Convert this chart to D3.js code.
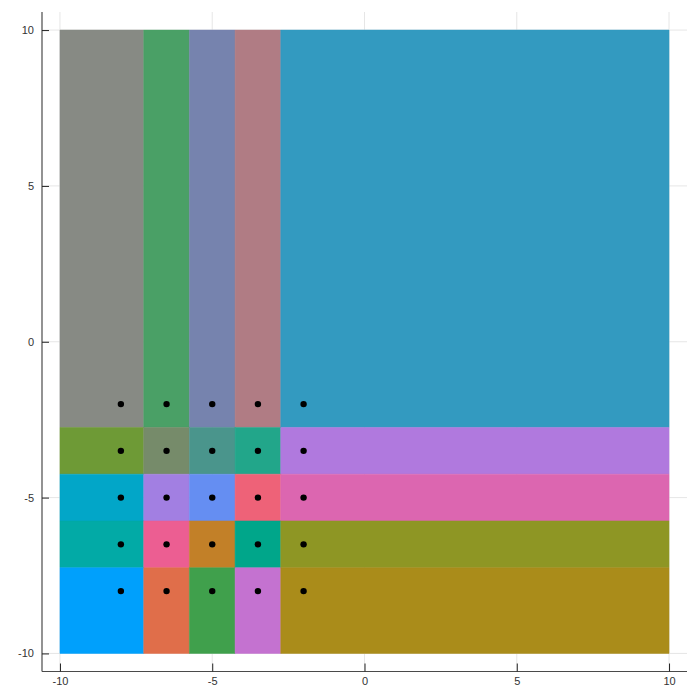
<!DOCTYPE html>
<html>
<head>
<meta charset="utf-8">
<script src="https://cdn.jsdelivr.net/npm/d3@7"></script>
<style>
  body { margin: 0; background: #fff; }
  svg { display: block; }
  .tick text { font-family: "Liberation Sans", "DejaVu Sans", sans-serif; font-size: 11px; fill: #333; }
</style>
</head>
<body>
<svg id="chart" width="699" height="700"></svg>
<script>
// seed points (x, y) and the colour of each voronoi cell
const pointX = [-8, -6.5, -5, -3.5, -2,
                -8, -6.5, -5, -3.5, -2,
                -8, -6.5, -5, -3.5, -2,
                -8, -6.5, -5, -3.5, -2,
                -8, -6.5, -5, -3.5, -2];
const pointY = [-2, -2, -2, -2, -2,
                -3.5, -3.5, -3.5, -3.5, -3.5,
                -5, -5, -5, -5, -5,
                -6.5, -6.5, -6.5, -6.5, -6.5,
                -8, -8, -8, -8, -8];
const cellColors = ["#878a84", "#4aa066", "#7683ae", "#b07c84", "#339ac0",
                    "#6e9a36", "#768b6a", "#4a958c", "#22a68a", "#b079de",
                    "#02a6c8", "#a27fe2", "#658ef2", "#ee6278", "#dc66b0",
                    "#02aaa6", "#ec5e92", "#c28028", "#00a68a", "#8e9624",
                    "#00a0fc", "#e06e4a", "#40a04c", "#c472d0", "#aa8c1a"];
const bounds = [-10, -10, 10, 10];
const xTicks = [-10, -5, 0, 5, 10];
const yTicks = [-10, -5, 0, 5, 10];

(() => {
  const svg = d3.select("#chart");
  const mLeft = 42, mRight = 687, mTop = 12, mBottom = 671.5;

  const x = d3.scaleLinear().domain([-10.59, 10.59]).range([mLeft, mRight]);
  const y = d3.scaleLinear().domain([-10.58, 10.58]).range([mBottom, mTop]);

  // grid
  svg.append("g").selectAll("line")
    .data(xTicks).enter().append("line")
    .attr("x1", d => x(d)).attr("x2", d => x(d))
    .attr("y1", mTop).attr("y2", mBottom)
    .attr("stroke", "#e6e6e6").attr("stroke-width", 1);
  svg.append("g").selectAll("line")
    .data(yTicks).enter().append("line")
    .attr("x1", mLeft).attr("x2", mRight)
    .attr("y1", d => y(d)).attr("y2", d => y(d))
    .attr("stroke", "#e6e6e6").attr("stroke-width", 1);

  // voronoi cells, computed in data space and clipped to the box
  const pts = pointX.map((px, i) => [px, pointY[i]]);
  const voronoi = d3.Delaunay.from(pts).voronoi(bounds);
  const line = d3.line().x(p => x(p[0])).y(p => y(p[1]));

  svg.append("g").selectAll("path")
    .data(pts).enter().append("path")
    .attr("d", (d, i) => line(voronoi.cellPolygon(i)) + "Z")
    .attr("fill", (d, i) => cellColors[i])
    .attr("stroke", (d, i) => cellColors[i])
    .attr("stroke-width", 0.5);

  // seed points
  svg.append("g").selectAll("circle")
    .data(pts).enter().append("circle")
    .attr("cx", d => x(d[0]))
    .attr("cy", d => y(d[1]))
    .attr("r", 3.2)
    .attr("fill", "#000");

  // axes (plain hyphen minus like the original)
  const fmt = d => String(d);
  const xAxis = svg.append("g")
    .attr("transform", `translate(0,${mBottom})`)
    .call(d3.axisBottom(x).tickValues(xTicks).tickSize(-8).tickPadding(6).tickFormat(fmt));
  const yAxis = svg.append("g")
    .attr("transform", `translate(${mLeft},0)`)
    .call(d3.axisLeft(y).tickValues(yTicks).tickSize(-7).tickPadding(8).tickFormat(fmt));

  [xAxis, yAxis].forEach(a => {
    a.select(".domain").attr("stroke", "#4a4a4a").attr("stroke-width", 1.2);
    a.selectAll(".tick line").attr("stroke", "#222");
  });
  xAxis.select(".domain").attr("d", `M${mLeft},0H${mRight}`);
  yAxis.select(".domain").attr("d", `M0,${mTop}V${mBottom}`);
})();
</script>
</body>
</html>
